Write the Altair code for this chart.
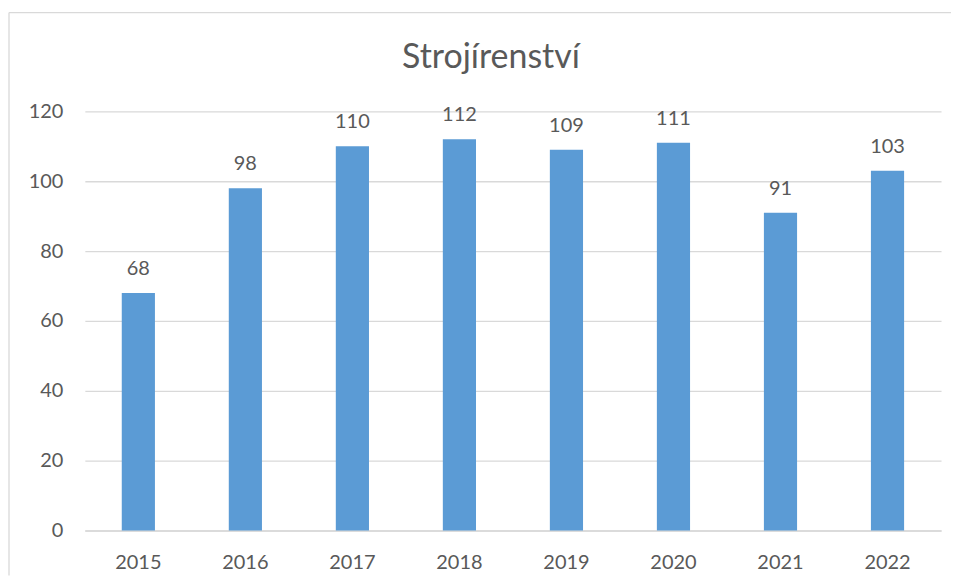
import altair as alt
import pandas as pd

years = ["2015", "2016", "2017", "2018", "2019", "2020", "2021", "2022"]
values = [68, 98, 110, 112, 109, 111, 91, 103]
y_ticks = [0, 20, 40, 60, 80, 100, 120]
title_text = "Strojírenství"

df = pd.DataFrame({"year": years, "value": values})

FONT = "Lato"
TXT = "#595959"
GRID = "#d9d9d9"

x_enc = alt.X("year:N", sort=years, title=None,
              scale=alt.Scale(paddingInner=0.69, paddingOuter=0.345),
              axis=alt.Axis(labelAngle=0, ticks=False, tickSize=0, domain=True,
                            domainColor=GRID, domainWidth=1.3,
                            labelPadding=38, labelBaseline="alphabetic",
                            labelFontSize=20, labelColor=TXT, labelFont=FONT))
y_enc = alt.Y("value:Q", title=None,
              scale=alt.Scale(domain=[0, 120], nice=False),
              axis=alt.Axis(values=y_ticks, ticks=False, tickSize=0, domain=False,
                            grid=True, gridColor=GRID, gridWidth=1.3,
                            labelPadding=22, labelFontSize=20, labelColor=TXT,
                            labelFont=FONT))

base = alt.Chart(df)
bars = base.mark_bar(color="#5B9BD5").encode(x=x_enc, y=y_enc)
labels = base.mark_text(font=FONT, fontSize=20, color=TXT, baseline="alphabetic",
                        dy=-18).encode(x=alt.X("year:N", sort=years),
                                       y=alt.Y("value:Q"),
                                       text=alt.Text("value:Q"))

title = alt.Chart(pd.DataFrame({"t": [title_text]})).mark_text(
    font=FONT, fontSize=34, color=TXT, baseline="alphabetic", align="center"
).encode(x=alt.value(407), y=alt.value(-43), text="t:N")

frame_left = alt.Chart(pd.DataFrame({"a": [0]})).mark_rule(
    color=GRID, strokeWidth=1.3, clip=False
).encode(x=alt.value(-76), y=alt.value(-99), y2=alt.value(465))
frame_top = alt.Chart(pd.DataFrame({"a": [0]})).mark_rule(
    color=GRID, strokeWidth=1.3, clip=False
).encode(x=alt.value(-76), x2=alt.value(868), y=alt.value(-99))

chart = alt.layer(bars, labels, title, frame_left, frame_top).properties(
    width=858, height=420,
    background="white",
    padding={"left": 0, "top": 3, "right": 0, "bottom": 0},
).configure_view(stroke=None)

chart.save("out.html", embed_options={"renderer": "svg", "actions": False})
